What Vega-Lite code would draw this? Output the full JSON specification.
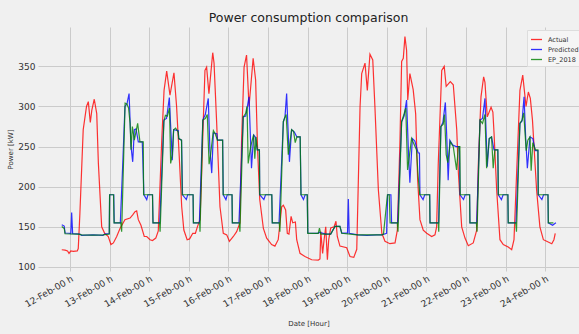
{
"$schema": "https://vega.github.io/schema/vega-lite/v6.json",
"autosize": "none",
"padding": {"left": 38, "top": 27, "right": 0, "bottom": 63},
"width": 541,
"height": 244,
"background": "#f0f0f0",
"config": {"view": {"stroke": null, "fill": "#f0f0f0"}, "font": "DejaVu Sans"},
"title": {"text": "Power consumption comparison", "fontSize": 12.5, "font": "DejaVu Sans", "fontWeight": "normal", "color": "#222222", "anchor": "middle", "offset": 5, "baseline": "alphabetic", "dy": 12},
"datasets": {
"actual": [
{"t":-5,"v":121.5},{"t":-3,"v":121},{"t":-1.5,"v":120},{"t":-0.6,"v":117},{"t":0.5,"v":120},{"t":2,"v":119.5},{"t":4.4,"v":120},{"t":5,"v":123},{"t":6,"v":167},{"t":8,"v":271},{"t":10,"v":300},{"t":11.1,"v":306},{"t":12.3,"v":280},{"t":13.2,"v":295},{"t":14.7,"v":309},{"t":16.2,"v":291},{"t":17.2,"v":229},{"t":19.2,"v":150},{"t":21,"v":142},{"t":23.2,"v":138},{"t":24.8,"v":128},{"t":26.3,"v":130},{"t":28.3,"v":138},{"t":30.3,"v":148},{"t":33.3,"v":159},{"t":36.4,"v":161},{"t":38,"v":165},{"t":39.4,"v":169},{"t":40.4,"v":170},{"t":41.4,"v":159},{"t":43,"v":152},{"t":45,"v":138},{"t":46.5,"v":138},{"t":48.5,"v":134},{"t":50,"v":133},{"t":52,"v":136},{"t":53.5,"v":145},{"t":55.6,"v":258},{"t":57,"v":320},{"t":58.6,"v":344},{"t":60.6,"v":314},{"t":63,"v":342},{"t":64.6,"v":300},{"t":66.2,"v":238},{"t":67.7,"v":175},{"t":69,"v":146},{"t":71,"v":134},{"t":72.5,"v":135},{"t":74.4,"v":142},{"t":76,"v":142},{"t":77.2,"v":150},{"t":78.8,"v":159},{"t":79.8,"v":217},{"t":80.8,"v":283},{"t":81.8,"v":345},{"t":82.8,"v":349},{"t":84.2,"v":316},{"t":86.5,"v":367},{"t":87.3,"v":354},{"t":88.9,"v":279},{"t":90.9,"v":175},{"t":92.9,"v":142},{"t":95,"v":140},{"t":96.6,"v":132},{"t":99,"v":138},{"t":101,"v":144},{"t":103,"v":155},{"t":104,"v":258},{"t":105.5,"v":349},{"t":107,"v":364},{"t":108.5,"v":300},{"t":111,"v":360},{"t":112.5,"v":333},{"t":113.7,"v":246},{"t":115,"v":184},{"t":117.2,"v":148},{"t":119.2,"v":136},{"t":122.2,"v":128},{"t":124.2,"v":126},{"t":126.2,"v":134},{"t":128.3,"v":175},{"t":129.3,"v":177},{"t":130.7,"v":171},{"t":131.7,"v":142},{"t":132.7,"v":141},{"t":134,"v":163},{"t":135,"v":155},{"t":136.6,"v":156},{"t":137.4,"v":134},{"t":139.4,"v":117},{"t":142.4,"v":113},{"t":146.5,"v":109},{"t":150.5,"v":108.6},{"t":151.5,"v":110},{"t":152,"v":144},{"t":153.1,"v":117},{"t":154,"v":134},{"t":155,"v":150},{"t":156,"v":109},{"t":156.8,"v":134},{"t":158,"v":148.5},{"t":160,"v":150},{"t":161.2,"v":157},{"t":162,"v":138},{"t":163.6,"v":126},{"t":167.7,"v":124},{"t":169.7,"v":113},{"t":172,"v":112},{"t":173.8,"v":122},{"t":175.8,"v":300},{"t":176.8,"v":341},{"t":178.8,"v":354},{"t":180.2,"v":320},{"t":181.8,"v":365},{"t":183.5,"v":358},{"t":184.8,"v":300},{"t":186.9,"v":196},{"t":189,"v":142},{"t":190.9,"v":132},{"t":193.9,"v":129},{"t":197,"v":130},{"t":198.4,"v":146},{"t":198.9,"v":180},{"t":200,"v":258},{"t":201,"v":356},{"t":202,"v":360},{"t":203,"v":387},{"t":204,"v":370},{"t":204.7,"v":308},{"t":206,"v":341},{"t":208,"v":321},{"t":209.5,"v":291},{"t":210.7,"v":209},{"t":212.1,"v":159},{"t":214.1,"v":146},{"t":216.2,"v":142},{"t":219.2,"v":138},{"t":221.2,"v":140},{"t":222.2,"v":150},{"t":223.2,"v":229},{"t":225.3,"v":345},{"t":226.8,"v":350},{"t":228,"v":325},{"t":230.5,"v":331},{"t":232.3,"v":327},{"t":234.4,"v":271},{"t":235.4,"v":217},{"t":237.4,"v":150},{"t":239.4,"v":136},{"t":241.4,"v":126.5},{"t":244.4,"v":130},{"t":246.5,"v":146},{"t":247.5,"v":229},{"t":249.1,"v":312},{"t":250.7,"v":337},{"t":251.5,"v":330},{"t":252.9,"v":287},{"t":255.2,"v":299},{"t":256.3,"v":293},{"t":257,"v":267},{"t":258.6,"v":196},{"t":260.6,"v":134},{"t":262.6,"v":128},{"t":265.6,"v":125},{"t":267.7,"v":121.5},{"t":269.1,"v":134},{"t":270.7,"v":217},{"t":272.7,"v":320},{"t":274.4,"v":339},{"t":276.4,"v":300},{"t":277.8,"v":318},{"t":279,"v":310},{"t":280.3,"v":283},{"t":282.8,"v":196},{"t":284.8,"v":150},{"t":286.9,"v":134},{"t":288.9,"v":132},{"t":292,"v":129},{"t":293.3,"v":134},{"t":294.1,"v":142}
],
"predicted": [
{"t":-5,"v":152.6},{"t":-3.5,"v":151},{"t":-3,"v":142.3},{"t":-0.5,"v":142},{"t":0.5,"v":141.5},{"t":1,"v":168},{"t":1.6,"v":141.5},{"t":6,"v":141},{"t":7,"v":139.5},{"t":14,"v":140},{"t":20,"v":139.5},{"t":21,"v":141},{"t":23.8,"v":141.5},{"t":24,"v":190},{"t":26.5,"v":190},{"t":26.8,"v":155},{"t":30.5,"v":155},{"t":32,"v":230},{"t":33.3,"v":300},{"t":34.5,"v":303},{"t":35.8,"v":316},{"t":37,"v":250},{"t":38,"v":231},{"t":39,"v":271},{"t":40,"v":272},{"t":41.4,"v":256},{"t":43.8,"v":256},{"t":44.8,"v":190},{"t":46.5,"v":184},{"t":47.2,"v":190},{"t":50,"v":190},{"t":50.3,"v":155},{"t":54.4,"v":155},{"t":56.9,"v":283},{"t":58.5,"v":285},{"t":60.2,"v":311},{"t":61.2,"v":267},{"t":62,"v":233},{"t":62.8,"v":271},{"t":65.6,"v":270},{"t":65.9,"v":260},{"t":67.6,"v":258},{"t":68.2,"v":190},{"t":70.5,"v":184},{"t":71.3,"v":190},{"t":74.6,"v":190},{"t":74.8,"v":155},{"t":78.4,"v":155},{"t":80.5,"v":283},{"t":82,"v":290},{"t":83.8,"v":310},{"t":84.8,"v":246},{"t":85.9,"v":217},{"t":86.9,"v":267},{"t":89,"v":266},{"t":89.4,"v":258},{"t":92.5,"v":258},{"t":92.9,"v":190},{"t":94.5,"v":184},{"t":95.3,"v":190},{"t":98.2,"v":190},{"t":98.4,"v":155},{"t":102.4,"v":155},{"t":105,"v":287},{"t":106.5,"v":288},{"t":108.5,"v":312},{"t":110,"v":223},{"t":111.3,"v":264.5},{"t":112.3,"v":262},{"t":113.5,"v":246},{"t":114.8,"v":246},{"t":115,"v":190},{"t":117.5,"v":184},{"t":118.5,"v":190},{"t":122.3,"v":190},{"t":122.6,"v":155},{"t":126.7,"v":155},{"t":129.3,"v":281},{"t":130.3,"v":287},{"t":131.3,"v":316},{"t":132,"v":279},{"t":133,"v":231},{"t":134.3,"v":271},{"t":136,"v":268},{"t":137.5,"v":262},{"t":139.5,"v":262},{"t":140,"v":190},{"t":141.5,"v":184},{"t":142.5,"v":190},{"t":143.8,"v":190},{"t":144.1,"v":142.3},{"t":150,"v":142},{"t":151.2,"v":143},{"t":155,"v":141},{"t":158,"v":141},{"t":160.6,"v":150.5},{"t":163.6,"v":150.5},{"t":164.7,"v":142.3},{"t":168.2,"v":142.3},{"t":168.7,"v":184.6},{"t":169.2,"v":142},{"t":174.5,"v":140},{"t":180,"v":139.5},{"t":186,"v":140},{"t":189,"v":140},{"t":191.9,"v":142},{"t":192.5,"v":190},{"t":194.5,"v":190},{"t":194.9,"v":155},{"t":198.6,"v":155},{"t":201,"v":281},{"t":202.5,"v":288},{"t":204,"v":308},{"t":205,"v":250},{"t":206,"v":205},{"t":207.5,"v":260},{"t":209,"v":257},{"t":211,"v":242},{"t":211.8,"v":242},{"t":212.1,"v":190},{"t":214,"v":184},{"t":215,"v":190},{"t":218,"v":190},{"t":218.2,"v":155},{"t":223.4,"v":155},{"t":224.8,"v":275},{"t":226,"v":280},{"t":227.5,"v":305},{"t":228.3,"v":265},{"t":229.2,"v":208},{"t":230.2,"v":258},{"t":232,"v":252},{"t":234,"v":250},{"t":236,"v":250},{"t":236.4,"v":190},{"t":238.5,"v":184},{"t":239.5,"v":190},{"t":242.2,"v":190},{"t":242.4,"v":155},{"t":246.5,"v":155},{"t":248.5,"v":283},{"t":250,"v":285},{"t":251.5,"v":310},{"t":252.9,"v":225},{"t":254.1,"v":260},{"t":255.5,"v":262},{"t":257,"v":246},{"t":259.3,"v":246},{"t":259.6,"v":190},{"t":261.5,"v":184},{"t":262.5,"v":190},{"t":265.4,"v":190},{"t":265.6,"v":155},{"t":270.3,"v":155},{"t":272.7,"v":279},{"t":274,"v":282},{"t":275.2,"v":312},{"t":276.2,"v":260},{"t":277.2,"v":223},{"t":278.8,"v":262},{"t":280.5,"v":260},{"t":282,"v":245},{"t":283.6,"v":245},{"t":283.8,"v":190},{"t":286,"v":184},{"t":287,"v":190},{"t":289.7,"v":190},{"t":289.9,"v":155},{"t":292.5,"v":152},{"t":294.5,"v":155}
],
"ep": [
{"t":-5,"v":150.5},{"t":-3.5,"v":148},{"t":-3,"v":141.4},{"t":5,"v":141},{"t":7,"v":140},{"t":14,"v":139.8},{"t":20,"v":140},{"t":23.8,"v":141},{"t":24,"v":190},{"t":26.4,"v":190},{"t":26.7,"v":155},{"t":30.8,"v":155},{"t":31.3,"v":144},{"t":33.4,"v":304},{"t":34.5,"v":303},{"t":35.5,"v":298},{"t":36.4,"v":279},{"t":37,"v":246},{"t":37.8,"v":275},{"t":39,"v":258},{"t":41,"v":279},{"t":42.4,"v":256},{"t":44.4,"v":256},{"t":44.6,"v":190},{"t":50,"v":190},{"t":50.3,"v":155},{"t":54.3,"v":155},{"t":54.6,"v":144},{"t":56.9,"v":281},{"t":57.8,"v":289},{"t":59,"v":288},{"t":60.3,"v":298},{"t":61,"v":229},{"t":62,"v":240},{"t":62.8,"v":271},{"t":64,"v":273},{"t":65.6,"v":268},{"t":65.9,"v":260},{"t":67.6,"v":258},{"t":68,"v":190},{"t":74.6,"v":190},{"t":74.8,"v":155},{"t":78.6,"v":155},{"t":78.8,"v":144},{"t":80.5,"v":283},{"t":82,"v":285},{"t":83.2,"v":290},{"t":84.3,"v":228},{"t":85.2,"v":240},{"t":86.9,"v":270},{"t":88,"v":266},{"t":89.4,"v":258},{"t":92.5,"v":258},{"t":92.8,"v":190},{"t":98.2,"v":190},{"t":98.4,"v":155},{"t":102.6,"v":155},{"t":103,"v":144},{"t":105,"v":287},{"t":106.5,"v":291.5},{"t":107.3,"v":300},{"t":108,"v":229},{"t":109.5,"v":250},{"t":111.3,"v":265},{"t":112,"v":235},{"t":112.8,"v":262},{"t":113.5,"v":246},{"t":114.8,"v":246},{"t":115,"v":190},{"t":122.3,"v":190},{"t":122.6,"v":155},{"t":126.8,"v":155},{"t":127.2,"v":144},{"t":129.3,"v":281},{"t":130.3,"v":287},{"t":131,"v":290},{"t":132.3,"v":240},{"t":133,"v":250},{"t":134.3,"v":271},{"t":135.5,"v":269},{"t":136.5,"v":255},{"t":137.5,"v":262},{"t":139.5,"v":262},{"t":140,"v":190},{"t":143.8,"v":190},{"t":144.1,"v":142},{"t":150.5,"v":142},{"t":151.2,"v":148.5},{"t":152,"v":141},{"t":158,"v":141},{"t":160.6,"v":150.5},{"t":163.6,"v":150.5},{"t":164.7,"v":142},{"t":174,"v":140},{"t":189,"v":140},{"t":190,"v":141},{"t":192.4,"v":190},{"t":193.5,"v":190},{"t":194,"v":155},{"t":198.4,"v":155},{"t":198.8,"v":144},{"t":201,"v":281},{"t":202.6,"v":291.5},{"t":203.5,"v":298},{"t":204.6,"v":221},{"t":205.5,"v":235},{"t":207,"v":260},{"t":210,"v":246},{"t":211,"v":213},{"t":212,"v":190},{"t":218,"v":190},{"t":218.2,"v":155},{"t":223.2,"v":155},{"t":223.5,"v":144},{"t":224.8,"v":275},{"t":226.2,"v":278},{"t":227,"v":290},{"t":228,"v":240},{"t":229,"v":230},{"t":230.5,"v":256},{"t":232.3,"v":250},{"t":234.3,"v":221},{"t":235.4,"v":250},{"t":236.3,"v":250},{"t":236.5,"v":190},{"t":242.2,"v":190},{"t":242.4,"v":155},{"t":246.3,"v":155},{"t":246.7,"v":144},{"t":248.5,"v":283},{"t":250,"v":279},{"t":251.5,"v":290},{"t":252.5,"v":223},{"t":254.1,"v":260},{"t":255.5,"v":262},{"t":256.5,"v":223},{"t":257.5,"v":246},{"t":259.3,"v":246},{"t":259.6,"v":190},{"t":265.4,"v":190},{"t":265.6,"v":155},{"t":270.2,"v":155},{"t":270.6,"v":144},{"t":272.7,"v":279},{"t":274,"v":283},{"t":275,"v":292},{"t":276.5,"v":245},{"t":277.5,"v":258},{"t":278.8,"v":262},{"t":279.5,"v":220},{"t":280.5,"v":255},{"t":282,"v":246},{"t":283.6,"v":246},{"t":283.8,"v":190},{"t":289.7,"v":190},{"t":289.9,"v":155},{"t":293,"v":155}
]
},
"encoding": {
"x": {"field": "t", "type": "quantitative", "scale": {"domain": [-19.4, 308.5], "nice": false, "zero": false},
 "axis": {"values": [0,24,48,72,96,120,144,168,192,216,240,264,288], "labelExpr": "(12 + datum.value/24) + '-Feb-00 h'", "labelAngle": -30, "labelAlign": "right", "labelBaseline": "top", "labelFontSize": 9, "labelColor": "#333333", "labelFont": "DejaVu Sans", "labelPadding": 3, "labelFlush": false, "labelOverlap": false, "grid": true, "gridColor": "#cbcbcb", "gridWidth": 1, "domain": false, "ticks": false, "title": "Date [Hour]", "titleFont": "DejaVu Sans", "titleFontSize": 7, "titleFontWeight": "normal", "titleColor": "#333333", "titleY": 52, "titleBaseline": "middle"}},
"y": {"field": "v", "type": "quantitative", "scale": {"domain": [95, 399], "nice": false, "zero": false},
 "axis": {"values": [100,150,200,250,300,350], "labelFontSize": 9, "labelColor": "#333333", "labelFont": "DejaVu Sans", "labelPadding": 3, "grid": true, "gridColor": "#cbcbcb", "gridWidth": 1, "domain": false, "ticks": false, "title": "Power [kW]", "titleFont": "DejaVu Sans", "titleFontSize": 7, "titleFontWeight": "normal", "titleColor": "#333333", "titlePadding": 4}},
"color": {"field": "s", "type": "nominal", "scale": {"domain": ["Actual", "Predicted", "EP_2018"], "range": ["#ff0000", "#0000ff", "#008000"]},
 "legend": {"title": null, "orient": "none", "legendX": 489, "legendY": 3, "symbolType": "stroke", "symbolSize": 121, "symbolStrokeWidth": 1.3, "labelFontSize": 6.5, "labelFont": "DejaVu Sans", "labelColor": "#333333", "rowPadding": 0, "fillColor": "#f5f5f5", "strokeColor": "#dddddd", "padding": 3, "labelOffset": 5}}
},
"layer": [
{"data": {"name": "actual"}, "transform": [{"calculate": "'Actual'", "as": "s"}], "mark": {"type": "line", "strokeWidth": 1.2, "opacity": 0.8}, "encoding": {}},
{"data": {"name": "predicted"}, "transform": [{"calculate": "'Predicted'", "as": "s"}], "mark": {"type": "line", "strokeWidth": 1.2, "opacity": 0.8}, "encoding": {}},
{"data": {"name": "ep"}, "transform": [{"calculate": "'EP_2018'", "as": "s"}], "mark": {"type": "line", "strokeWidth": 1.2, "opacity": 0.8}, "encoding": {}}
]
}
